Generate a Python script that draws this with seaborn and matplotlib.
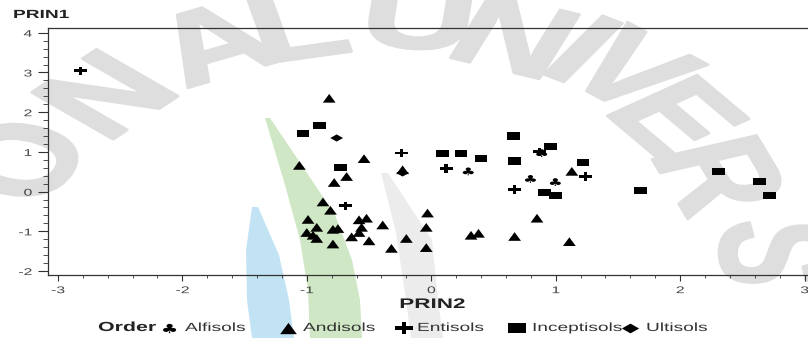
import numpy as np
import pandas as pd
import matplotlib
matplotlib.use("Agg")
import matplotlib.pyplot as plt
from matplotlib.path import Path
from matplotlib.textpath import TextPath
from matplotlib.font_manager import FontProperties
from matplotlib.ticker import MultipleLocator
from matplotlib.patheffects import AbstractPathEffect
from matplotlib.transforms import Affine2D
from matplotlib.lines import Line2D
from matplotlib.patches import Polygon
import seaborn as sns

# ---------------- data ----------------
orders = ["Alfisols", "Andisols", "Entisols", "Inceptisols", "Ultisols"]

alfisols_x = [0.29, 0.88, 0.79, 0.99]
alfisols_y = [0.51, 0.97, 0.32, 0.24]

andisols_x = [-0.82, -0.54, -1.06, -0.68, -0.78, -0.23,
              -0.87, -0.81, -0.99, -0.92, -1.00, -0.95, -0.92, -0.79, -0.75,
              -0.79, -0.58, -0.52, -0.56, -0.58, -0.64, -0.50, -0.39, -0.32,
              -0.20, -0.03, -0.04, -0.04, 0.32, 0.38, 0.85, 0.67, 1.11, 1.13]
andisols_y = [2.35, 0.83, 0.66, 0.38, 0.23, 0.55,
              -0.26, -0.47, -0.70, -0.90, -1.03, -1.10, -1.18, -0.95, -0.93,
              -1.32, -0.71, -0.67, -0.90, -1.03, -1.14, -1.24, -0.84, -1.43,
              -1.18, -0.54, -0.90, -1.41, -1.10, -1.05, -0.67, -1.13, -1.26, 0.51]

entisols_x = [-2.82, -0.24, 0.12, -0.69, 0.87, 1.24, 0.67]
entisols_y = [3.04, 0.97, 0.59, -0.36, 1.00, 0.38, 0.05]

inceptisols_x = [-0.90, -1.03, 0.09, 0.24, -0.73, 0.66, 0.40, 0.96, 0.67,
                 1.22, 0.91, 1.00, 1.68, 2.31, 2.64, 2.72]
inceptisols_y = [1.67, 1.46, 0.95, 0.97, 0.60, 1.40, 0.83, 1.14, 0.77,
                 0.73, -0.02, -0.10, 0.03, 0.51, 0.25, -0.10]

ultisols_x = [-0.76, -0.23]
ultisols_y = [1.35, 0.47]

x_ticks = [-3, -2, -1, 0, 1, 2, 3]
y_ticks = [-2, -1, 0, 1, 2, 3, 4]
x_title = "PRIN2"
y_title = "PRIN1"
legend_title = "Order"

# background watermark letters of the source picture
watermark_letters = ["O", "N", "A", "L", "U", "N", "I", "V", "E", "R", "S"]

frames = []
for name, xs, ys in [("Alfisols", alfisols_x, alfisols_y),
                     ("Andisols", andisols_x, andisols_y),
                     ("Entisols", entisols_x, entisols_y),
                     ("Inceptisols", inceptisols_x, inceptisols_y),
                     ("Ultisols", ultisols_x, ultisols_y)]:
    frames.append(pd.DataFrame({"PRIN2": xs, "PRIN1": ys, "Order": name}))
df = pd.concat(frames, ignore_index=True)

W, H = 808, 338
SX = 1.62  # the reference picture is stretched horizontally


# ---------------- horizontal stretch of text glyphs (text stays real text) ----------------
class HStretch(AbstractPathEffect):
    """Stretch glyphs horizontally in text space about an anchor fraction."""
    def __init__(self, sx=SX, anchor=0.0):
        super().__init__()
        self.sx = sx
        self.anchor = anchor

    def draw_path(self, renderer, gc, tpath, affine, rgbFace=None):
        v = tpath.vertices
        a = v[:, 0].min() + self.anchor * (v[:, 0].max() - v[:, 0].min()) if len(v) else 0.0
        st = Affine2D().translate(-a, 0).scale(self.sx, 1).translate(a, 0)
        renderer.draw_path(gc, tpath, st + affine, rgbFace)


class HStretchScreen(AbstractPathEffect):
    """Stretch horizontally in screen space (for rotated text) about ink centre,
    with an optional outline that thickens the strokes."""
    def __init__(self, sx=SX, lw=0.0):
        super().__init__()
        self.sx = sx
        self.lw = lw

    def draw_path(self, renderer, gc, tpath, affine, rgbFace=None):
        pts = affine.transform(tpath.vertices)
        a = (pts[:, 0].min() + pts[:, 0].max()) / 2 if len(pts) else 0.0
        st = affine + Affine2D().translate(-a, 0).scale(self.sx, 1).translate(a, 0)
        gc0 = renderer.new_gc()
        gc0.copy_properties(gc)
        if self.lw > 0 and rgbFace is not None:
            gc0.set_linewidth(self.lw)
            gc0.set_foreground(rgbFace)
            gc0.set_joinstyle("round")
        renderer.draw_path(gc0, tpath, st, rgbFace)
        gc0.restore()


# ---------------- marker shapes (horizontally stretched) ----------------
def centred(path, sx=1.0, sy=1.0):
    v = path.vertices.copy()
    v[:, 0] -= (v[:, 0].max() + v[:, 0].min()) / 2
    v[:, 1] -= (v[:, 1].max() + v[:, 1].min()) / 2
    v[:, 0] *= sx
    v[:, 1] *= sy
    return Path(v, path.codes)

tri = Path([(-0.5, -0.34), (0.5, -0.34), (0.0, 0.34), (-0.5, -0.34)],
           [Path.MOVETO, Path.LINETO, Path.LINETO, Path.CLOSEPOLY])
rect = Path([(-0.5, -0.28), (0.5, -0.28), (0.5, 0.28), (-0.5, 0.28), (-0.5, -0.28)],
            [Path.MOVETO, Path.LINETO, Path.LINETO, Path.LINETO, Path.CLOSEPOLY])
diam = Path([(-0.5, 0.0), (0.0, -0.28), (0.5, 0.0), (0.0, 0.28), (-0.5, 0.0)],
            [Path.MOVETO, Path.LINETO, Path.LINETO, Path.LINETO, Path.CLOSEPOLY])
a_, b_, c_ = 0.5, 0.13, 0.11
plus = Path([(-a_, -c_), (-b_, -c_), (-b_, -0.34), (b_, -0.34), (b_, -c_),
             (a_, -c_), (a_, c_), (b_, c_), (b_, 0.34), (-b_, 0.34),
             (-b_, c_), (-a_, c_), (-a_, -c_)],
            [Path.MOVETO] + [Path.LINETO] * 11 + [Path.CLOSEPOLY])
club_raw = TextPath((0, 0), "\u2663", size=10, prop=FontProperties(family="DejaVu Sans"))
club = centred(club_raw, 1.45, 0.95)

markers = {"Alfisols": club, "Andisols": tri, "Entisols": plus,
           "Inceptisols": rect, "Ultisols": diam}
palette = {o: "black" for o in orders}

# ---------------- figure ----------------
sns.set_theme(style="ticks")
plt.rcParams["font.family"] = ["Liberation Sans", "DejaVu Sans"]
plt.rcParams["axes.unicode_minus"] = False

fig = plt.figure(figsize=(W / 100, H / 100), dpi=100)

# background layer in pixel coordinates (watermark of the source image)
bg = fig.add_axes([0, 0, 1, 1], zorder=-5)
bg.set_xlim(0, W)
bg.set_ylim(H, 0)
bg.axis("off")

green_band = [(265, 118), (285, 185), (300, 240), (308, 290), (310, 338),
              (362, 338), (360, 300), (352, 260), (335, 215), (305, 170), (270, 118)]
blue_band = [(252, 207), (246, 250), (247, 300), (252, 338),
             (294, 338), (289, 300), (279, 255), (258, 207)]
gray_band = [(381, 173), (396, 233), (406, 300), (411, 338),
             (443, 338), (438, 300), (432, 240), (388, 173)]
bg.add_patch(Polygon(green_band, closed=True, facecolor="#cfe7c5", edgecolor="none"))
bg.add_patch(Polygon(blue_band, closed=True, facecolor="#c2e3f4", edgecolor="none"))
bg.add_patch(Polygon(gray_band, closed=True, facecolor="#ececec", edgecolor="none"))

wm_pos = [(26, 163), (111, 100), (224, 50), (299, 32), (417, 22), (510, 44),
          (577, 56), (626, 76), (670, 122), (711, 178), (768, 253)]
wm_cx, wm_cy = 379, 254
for ch, (px, py) in zip(watermark_letters, wm_pos):
    ux = (px - wm_cx) / SX
    uy = -(py - wm_cy)
    rot = np.degrees(np.arctan2(-ux, uy))
    bg.text(px, py, ch, fontsize=72, fontweight="bold", color="#dedede",
            rotation=rot, rotation_mode="anchor", ha="center", va="center",
            path_effects=[HStretchScreen(lw=2.0)])

ax = fig.add_axes([48 / W, 1 - 275 / H, (807 - 48) / W, (275 - 28) / H], zorder=1)
ax.set_facecolor("none")

sns.scatterplot(data=df, x="PRIN2", y="PRIN1", hue="Order", style="Order",
                hue_order=orders, style_order=orders, palette=palette,
                markers=markers, s=85, linewidth=0, edgecolor="none",
                ax=ax, legend=False, zorder=3)

ax.set_xlim(-3.08, 3.02)
ax.set_ylim(-2.10, 4.12)
ax.set_xticks(x_ticks)
ax.set_yticks(y_ticks)
ax.xaxis.set_minor_locator(MultipleLocator(0.2))
ax.yaxis.set_minor_locator(MultipleLocator(0.2))
tick_col = "#333333"
ax.tick_params(axis="x", which="major", direction="out", length=4.3, width=0.8,
               color=tick_col, labelsize=7, labelcolor="#444444", pad=3.0)
ax.tick_params(axis="x", which="minor", direction="out", length=2.2, width=0.6,
               color=tick_col)
ax.tick_params(axis="y", which="major", direction="out", length=7.2, width=0.8,
               color=tick_col, labelsize=7, labelcolor="#444444", pad=4.3)
ax.tick_params(axis="y", which="minor", direction="out", length=3.6, width=0.6,
               color=tick_col)
for sp in ax.spines.values():
    sp.set_visible(True)
    sp.set_color("#333333")
    sp.set_linewidth(0.9)
ax.spines["right"].set_visible(False)
ax.set_xlabel("")
ax.set_ylabel("")

for t in ax.xaxis.get_major_ticks():
    t.label1.set_path_effects([HStretch(anchor=0.5)])
for t in ax.yaxis.get_major_ticks():
    t.label1.set_path_effects([HStretch(anchor=1.0)])

fig.text(13 / W, 1 - 15 / H, y_title, fontsize=8.5, fontweight="bold",
         color="#222222", ha="left", va="center",
         path_effects=[HStretch(anchor=0.0)])
fig.text(432 / W, 1 - 304 / H, x_title, fontsize=10, fontweight="bold",
         color="#222222", ha="center", va="center",
         path_effects=[HStretch(anchor=0.5)])

# ---------------- legend (fixed-width slots as in the reference) ----------------
leg_y = 1 - 328 / H
fig.text(98 / W, leg_y, legend_title, fontsize=9.5, fontweight="bold",
         color="#222222", ha="left", va="center",
         path_effects=[HStretch(anchor=0.0)])
marker_cx = [168, 288, 404, 517, 630]
text_x = [185, 303, 417, 532, 646]
leg_ms = {"Alfisols": 11, "Andisols": 12, "Entisols": 12.5,
          "Inceptisols": 13.5, "Ultisols": 12.5}
for o, mx, tx in zip(orders, marker_cx, text_x):
    fig.add_artist(Line2D([mx / W], [leg_y], transform=fig.transFigure,
                          marker=markers[o], markersize=leg_ms[o], color="black",
                          markeredgewidth=0, linestyle="none"))
    fig.text(tx / W, leg_y, o, fontsize=8.5, color="#333333",
             ha="left", va="center", path_effects=[HStretch(anchor=0.0)])

fig.savefig("out.png", dpi=100)
